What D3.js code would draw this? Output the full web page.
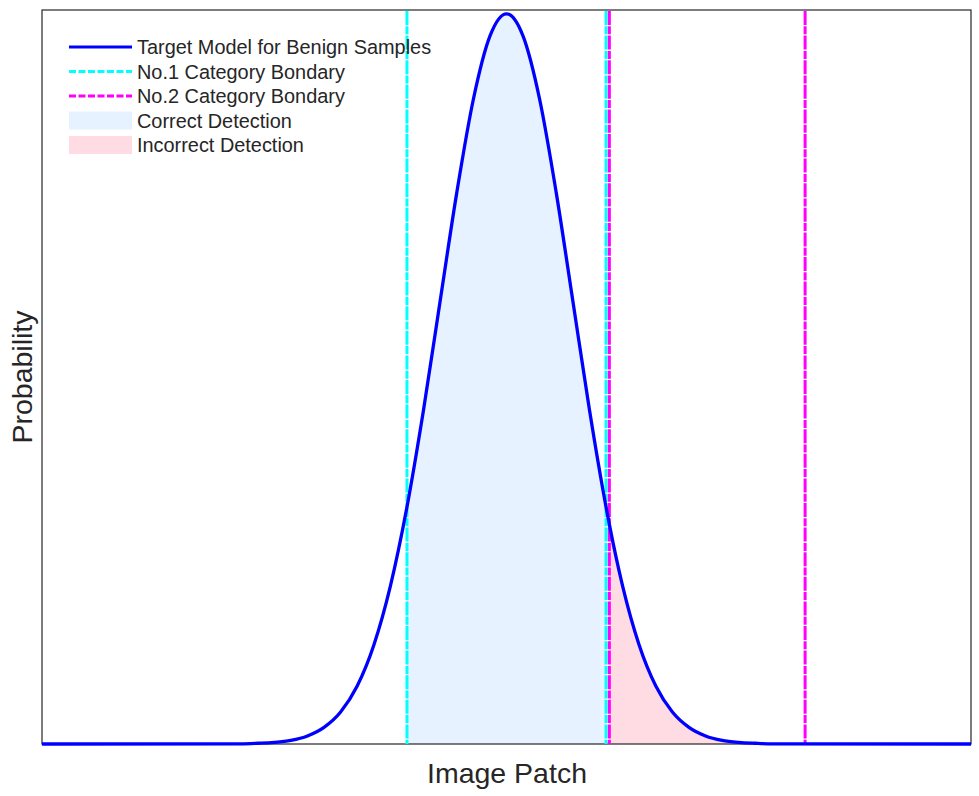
<!DOCTYPE html>
<html>
<head>
<meta charset="utf-8">
<script src="https://cdn.jsdelivr.net/npm/d3@7"></script>
<style>
  html, body { margin: 0; padding: 0; background: #ffffff; }
  svg { display: block; }
  text { font-family: "Liberation Sans", Arial, Helvetica, sans-serif; fill: #262626; }
</style>
</head>
<body>
<svg id="chart" width="979" height="796"></svg>
<script>
// ---- data ----
const patchX = [-7, -4, -3.75, -3.5, -3.25, -3, -2.75, -2.5, -2.25, -2, -1.75, -1.5, -1.25, -1, -0.75, -0.5, -0.25,
  0, 0.25, 0.5, 0.75, 1, 1.25, 1.5, 1.55, 1.75, 2, 2.25, 2.5, 2.75, 3, 3.25, 3.5, 3.75, 4, 7];
const probability = [0, 0.0001, 0.0004, 0.0009, 0.0020, 0.0044, 0.0091, 0.0175, 0.0317, 0.0540, 0.0863, 0.1295, 0.1826, 0.2420, 0.3011, 0.3521, 0.3867,
  0.3989, 0.3867, 0.3521, 0.3011, 0.2420, 0.1826, 0.1295, 0.1200, 0.0863, 0.0540, 0.0317, 0.0175, 0.0091, 0.0044, 0.0020, 0.0009, 0.0004, 0.0001, 0];
const category1Bounds = [-1.5, 1.5];
const category2Bounds = [1.55, 4.5];
const correctRange = [-1.5, 1.5];
const incorrectRange = [1.55, 7];
const legendLabels = ["Target Model for Benign Samples", "No.1 Category Bondary", "No.2 Category Bondary", "Correct Detection", "Incorrect Detection"];
const xAxisLabel = "Image Patch";
const yAxisLabel = "Probability";

// ---- layout ----
const svg = d3.select("#chart");
const L = 42, T = 10, R = 971, B = 744;
const x = d3.scaleLinear().domain([-7, 7]).range([L, R]);
const y = d3.scaleLinear().domain([0, 0.401]).range([B, T]);

const pts = patchX.map((v, i) => ({ x: v, y: probability[i] }));

const area = d3.area().x(d => x(d.x)).y0(y(0)).y1(d => y(d.y)).curve(d3.curveMonotoneX);
const line = d3.line().x(d => x(d.x)).y(d => y(d.y)).curve(d3.curveMonotoneX);

const inRange = r => pts.filter(d => d.x >= r[0] - 1e-9 && d.x <= r[1] + 1e-9);

// fills
svg.append("path").datum(inRange(correctRange)).attr("d", area).attr("fill", "#e6f2ff");
svg.append("path").datum(inRange(incorrectRange)).attr("d", area).attr("fill", "#ffdbe3");

// box
svg.append("rect").attr("x", L).attr("y", T).attr("width", R - L).attr("height", B - T)
  .attr("fill", "none").attr("stroke", "#262626").attr("stroke-width", 1.2);

// boundaries
const dash = "14,1.3,8,1.3";
category1Bounds.forEach(v => {
  svg.append("line").attr("x1", x(v)).attr("x2", x(v)).attr("y1", T + 1).attr("y2", B)
    .attr("stroke", "#00ffff").attr("stroke-width", 3).attr("stroke-dasharray", dash);
});
category2Bounds.forEach(v => {
  svg.append("line").attr("x1", x(v)).attr("x2", x(v)).attr("y1", T + 1).attr("y2", B)
    .attr("stroke", "#ff00ff").attr("stroke-width", 3).attr("stroke-dasharray", dash);
});

// curve
svg.append("path").datum(pts).attr("d", line).attr("fill", "none")
  .attr("stroke", "#0000ff").attr("stroke-width", 3.3).attr("stroke-linejoin", "round");

// axis labels
svg.append("text").attr("x", 507).attr("y", 783).attr("text-anchor", "middle")
  .attr("font-size", 28.5).text(xAxisLabel);
svg.append("text").attr("transform", `translate(32,${(T + B) / 2}) rotate(-90)`)
  .attr("text-anchor", "middle").attr("font-size", 28.5).text(yAxisLabel);

// legend
const lg = svg.append("g");
const rowY = [47, 71.5, 96, 120.5, 145];
const lx0 = 69, lx1 = 132, tx = 137;
const kinds = [
  { type: "line", color: "#0000ff", dash: null },
  { type: "line", color: "#00ffff", dash: "7,2.5" },
  { type: "line", color: "#ff00ff", dash: "7,2.5" },
  { type: "rect", color: "#e6f2ff" },
  { type: "rect", color: "#ffdbe3" }
];
legendLabels.forEach((lab, i) => {
  const k = kinds[i];
  if (k.type === "line") {
    lg.append("line").attr("x1", lx0).attr("x2", lx1).attr("y1", rowY[i]).attr("y2", rowY[i])
      .attr("stroke", k.color).attr("stroke-width", 3).attr("stroke-dasharray", k.dash);
  } else {
    lg.append("rect").attr("x", lx0).attr("y", rowY[i] - 9).attr("width", lx1 - lx0).attr("height", 18)
      .attr("fill", k.color);
  }
  lg.append("text").attr("x", tx).attr("y", rowY[i] + 7).attr("font-size", 19.9).attr("fill", "#000").text(lab);
});
</script>
</body>
</html>
